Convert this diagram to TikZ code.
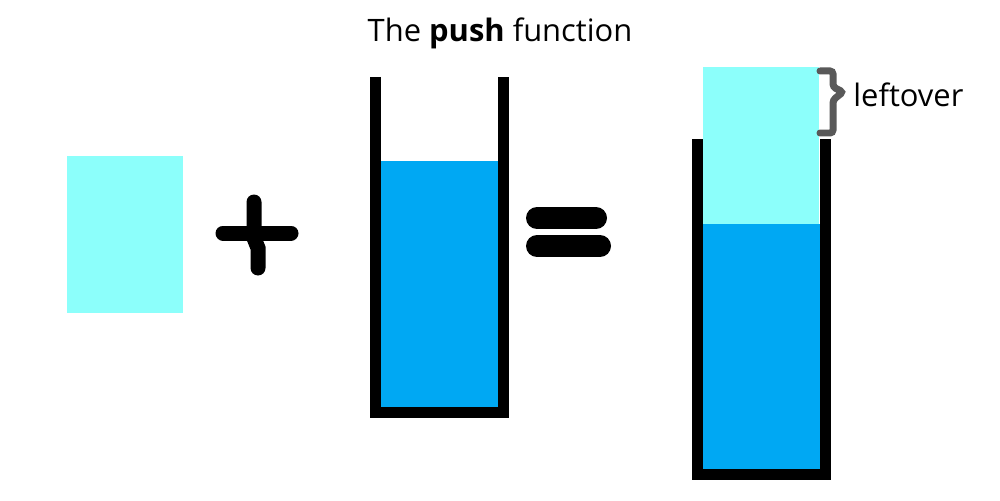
\documentclass[tikz,border=0pt]{standalone}
\usepackage{fontspec}
\setmainfont{Open Sans}
\definecolor{oldpart}{RGB}{0,168,243}
\definecolor{newpart}{RGB}{140,255,251}
\definecolor{bracegray}{RGB}{89,89,89}
\tikzset{
    wall/.style={draw=black, line width=0.22cm, miter limit=10},
    sign/.style={draw=black, line cap=round},
    label/.style={font=\fontsize{17.6}{21}\selectfont, inner sep=0pt},
    brace/.style={draw=bracegray, line width=0.14cm, rounded corners=0.06cm, line cap=round},
}

\begin{document}
\begin{tikzpicture}[x=0.02cm, y=-0.02cm]
    \useasboundingbox (0,0) rectangle (1000,500);
    % block to push
    \fill[newpart] (67,156) rectangle (183,313);
    % plus
    \draw[sign, line width=0.3cm] (223,233) -- (291,233);
    \draw[sign, line width=0.3cm] (254,202) -- (254,238) -- (258,248) -- (258,268);
    % stack before
    \fill[oldpart] (381,161) rectangle (498,407);
    \draw[wall] (375.5,77) -- (375.5,412.5) -- (503.5,412.5) -- (503.5,77);
    % equals
    \draw[sign, line width=0.44cm] (537,218) -- (596,218);
    \draw[sign, line width=0.44cm] (537,246) -- (600,246);
    % stack after
    \fill[oldpart] (703,224) rectangle (820,469);
    \fill[newpart] (703,67) rectangle (819,224);
    \draw[wall] (697.5,139) -- (697.5,474.5) -- (825.5,474.5) -- (825.5,139);
    % leftover brace
    \draw[brace] (820,71) -- (833,71) -- (833,87) -- (843,92) -- (833,100) -- (833,133) -- (820,133);
    \node[label, anchor=base] (title) at (500,42) {The \textbf{push} function};
    \node[label, anchor=base west] (leftover) at (853,107) {leftover};
\end{tikzpicture}
\end{document}
